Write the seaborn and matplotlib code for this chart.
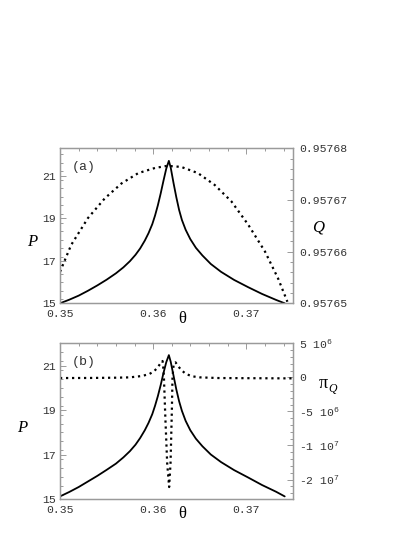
"""Two-panel P / Q / pi_Q versus theta figure."""

import matplotlib
matplotlib.use("Agg")
import matplotlib.pyplot as plt
import pandas as pd
import seaborn as sns
from matplotlib.ticker import FixedFormatter, FixedLocator, MultipleLocator

# theta grid used for the P curves of both panels
theta_p = [0.35000, 0.35100, 0.35200, 0.35300, 0.35400, 0.35500, 0.35600, 0.35680,
           0.35750, 0.35810, 0.35860, 0.35910, 0.35950, 0.35990, 0.36020, 0.36050,
           0.36080, 0.36110, 0.36140, 0.36168,
           0.36188, 0.36218, 0.36248, 0.36278, 0.36308, 0.36348, 0.36398, 0.36458,
           0.36528, 0.36618, 0.36728, 0.36868, 0.37018, 0.37168, 0.37318, 0.37411]

# panel (a): P (solid) and Q (dotted)
p_a = [15.00, 15.17, 15.36, 15.59, 15.84, 16.11, 16.41, 16.69,
       16.98, 17.28, 17.58, 17.95, 18.30, 18.72, 19.13, 19.61,
       20.16, 20.76, 21.33, 21.70,
       21.38, 20.66, 19.99, 19.39, 18.92, 18.46, 18.02, 17.61,
       17.25, 16.85, 16.48, 16.10, 15.76, 15.44, 15.16, 15.00]

theta_a_q = [0.3500, 0.3512, 0.3530, 0.3548, 0.3566, 0.3584, 0.3602, 0.3615, 0.3630,
             0.3648, 0.3666, 0.3684, 0.3702, 0.3720, 0.3734, 0.3744]
q_a = [0.9576561, 0.9576613, 0.9576665, 0.9576703, 0.9576732, 0.9576752, 0.9576762,
       0.9576766, 0.9576764, 0.9576752, 0.9576729, 0.9576697, 0.9576652, 0.9576600,
       0.9576548, 0.9576503]

# panel (b): P (solid) and pi_Q (dotted)
p_b = [15.13, 15.33, 15.55, 15.80, 16.05, 16.32, 16.60, 16.88,
       17.16, 17.45, 17.75, 18.10, 18.43, 18.82, 19.20, 19.63,
       20.12, 20.66, 21.15, 21.47,
       21.17, 20.55, 19.93, 19.40, 18.97, 18.52, 18.10, 17.72,
       17.38, 17.01, 16.67, 16.31, 15.98, 15.64, 15.34, 15.13]

theta_b_pi = [0.3500, 0.3530, 0.3560, 0.3575, 0.3588, 0.3596, 0.3601, 0.3605, 0.3608,
              0.3610, 0.3611, 0.36115, 0.3613, 0.3615, 0.36171, 0.36186, 0.3620,
              0.36207, 0.3622, 0.3624, 0.3627, 0.3630, 0.3635, 0.3642, 0.3650,
              0.3670, 0.3700, 0.3750]
pi_b = [-1.0e5, -0.9e5, -0.5e5, 0.0, 2.0e5, 5.0e5, 9.0e5, 1.5e6, 2.1e6,
        2.4e6, 1.2e6, 0.0, -5.8e6, -1.26e7, -1.61e7, -1.26e7, -5.0e6,
        0.0, 2.0e6, 2.2e6, 1.6e6, 1.1e6, 5.0e5, 1.5e5, 0.0,
        -1.0e5, -1.2e5, -1.5e5]

x_ticks = [0.35, 0.36, 0.37]
x_tick_labels = ["0.35", "0.36", "0.37"]
p_ticks = [15, 17, 19, 21]
p_tick_labels = ["15", "17", "19", "21"]
q_ticks = [0.95765, 0.95766, 0.95767, 0.95768]
q_tick_labels = ["0.95765", "0.95766", "0.95767", "0.95768"]
pi_ticks = [5e6, 0, -5e6, -1e7, -1.5e7]
pi_tick_labels = [r"5 10$^{6}$", "0", r"-5 10$^{6}$", r"-1 10$^{7}$", r"-2 10$^{7}$"]

W, H = 415, 537
FRAME = "#9a9a9a"
TEXT = "#333333"
DOTS = (0, (1, 1.7))

sns.set_style("white")
plt.rcParams["font.family"] = ["Liberation Mono", "DejaVu Sans"]
plt.rcParams["mathtext.fontset"] = "custom"
plt.rcParams["mathtext.rm"] = "Liberation Mono"
plt.rcParams["mathtext.it"] = "Liberation Mono:italic"


def _frame(ax):
    for spine in ax.spines.values():
        spine.set_color(FRAME)
        spine.set_linewidth(0.9)
    ax.tick_params(which="both", direction="in", colors=FRAME, labelcolor=TEXT,
                   labelsize=8.2, width=0.7)
    ax.tick_params(which="major", length=4.5)
    ax.tick_params(which="minor", length=2.2)


def _panel(ax, df_p, df_r, r_col, p_ylim, r_ylim, r_ticks, r_labels, tag):
    twin = ax.twinx()
    sns.lineplot(data=df_p, x="theta", y="P", ax=ax, color="black", lw=1.3,
                 estimator=None, sort=False)
    sns.lineplot(data=df_r, x="theta", y=r_col, ax=twin, color="black", lw=1.6,
                 linestyle=DOTS, estimator=None, sort=False)
    ax.set_xlim(0.35, 0.375)
    ax.set_ylim(*p_ylim)
    twin.set_ylim(*r_ylim)
    for a in (ax, twin):
        a.set_xlabel("")
        a.set_ylabel("")
        _frame(a)
    ax.xaxis.set_major_locator(FixedLocator(x_ticks))
    ax.xaxis.set_major_formatter(FixedFormatter(x_tick_labels))
    ax.xaxis.set_minor_locator(MultipleLocator(0.002))
    ax.yaxis.set_major_locator(FixedLocator(p_ticks))
    ax.yaxis.set_major_formatter(FixedFormatter(p_tick_labels))
    ax.yaxis.set_minor_locator(MultipleLocator(0.4))
    ax.tick_params(which="both", top=True, right=False)
    ax.tick_params(axis="x", pad=4.2)
    ax.tick_params(axis="y", pad=3)
    twin.yaxis.set_major_locator(FixedLocator(r_ticks))
    twin.yaxis.set_major_formatter(FixedFormatter(r_labels))
    twin.tick_params(which="both", left=False, right=True, pad=4.5)
    ax.text(0.05, 0.88, tag, transform=ax.transAxes, fontsize=9.5, color=TEXT,
            ha="left", va="center")
    return twin


fig = plt.figure(figsize=(W / 100, H / 100), dpi=100)
ax_a = fig.add_axes([60 / W, 1 - 303.3 / H, 233 / W, 155 / H])
ax_b = fig.add_axes([60 / W, 1 - 499.3 / H, 233 / W, 156 / H])

df_a_p = pd.DataFrame({"theta": theta_p, "P": p_a})
df_a_q = pd.DataFrame({"theta": theta_a_q, "Q": q_a})
df_b_p = pd.DataFrame({"theta": theta_p, "P": p_b})
df_b_pi = pd.DataFrame({"theta": theta_b_pi, "pi": pi_b})

tw_a = _panel(ax_a, df_a_p, df_a_q, "Q", (15, 22.29), (0.95765, 0.95768),
              q_ticks, q_tick_labels, "(a)")
tw_a.yaxis.set_minor_locator(MultipleLocator(0.000002))
tw_b = _panel(ax_b, df_b_p, df_b_pi, "pi", (15, 22.0), (-1.79e7, 5e6),
              pi_ticks, pi_tick_labels, "(b)")
tw_b.yaxis.set_minor_locator(MultipleLocator(1e6))

serif = ["Liberation Serif", "DejaVu Serif"]


def _label(x, y, s, size=12, style="normal"):
    fig.text(x / W, 1 - y / H, s, family=serif, fontsize=size, style=style,
             color="black", ha="center", va="center")


_label(31.7, 241.7, "P", style="italic")
_label(318, 228, "Q", style="italic")
_label(181.7, 319, "θ", size=12)
_label(21.7, 428.3, "P", style="italic")
_label(323, 383, "π", size=13)
_label(333, 389.5, "Q", size=8.5, style="italic")
_label(181.7, 514, "θ", size=12)

fig.savefig("out.png", dpi=100)
